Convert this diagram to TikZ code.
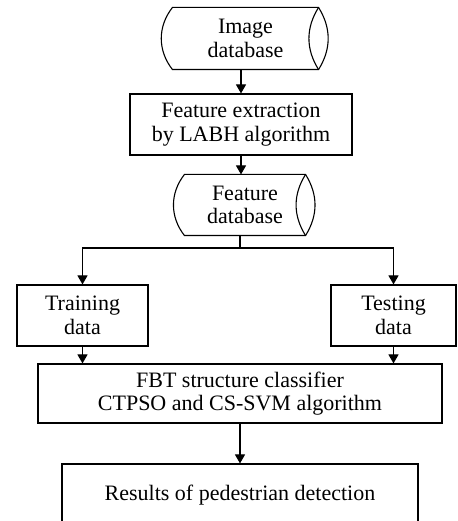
\documentclass[tikz,border=0pt]{standalone}
\usepackage{fontspec}
\setmainfont{Liberation Serif}
\usetikzlibrary{arrows.meta}

% outline of a stored-data node: curved left end, lens on the right
\newcommand\storeoutline[1]{
        \draw (#1.north west) to[out=-128,in=128] (#1.south west)
              -- (#1.south east) to[out=58,in=-58] (#1.north east)
              -- cycle;
        \draw (#1.north east) to[out=-122,in=122] (#1.south east);
}

\begin{document}
\begin{tikzpicture}[x=0.5pt, y=0.5pt, line width=0.55pt,
        procbox/.style={draw, rectangle, align=center, inner sep=0pt},
        storebox/.style={rectangle, align=center, inner sep=0pt},
        dataflow/.style={-{Triangle[length=4.5pt,width=5pt]}},
        every node/.style={font=\fontsize{11}{11.7}\selectfont}
        ]
        \useasboundingbox (0,0) rectangle (457,521);
        \clip (0,0) rectangle (457,521);
        \node [storebox, minimum width=72.5pt, minimum height=30.5pt, name=imgdb] at (245.5,482.5) {Image\\database};
        \node [procbox, minimum width=111pt, minimum height=30.5pt, name=featx] at (241,396.5) {Feature extraction\\by LABH algorithm};
        \node [storebox, minimum width=60pt, minimum height=30pt, name=featdb] at (245,316) {Feature\\database};
        \coordinate (split) at (240,273);
        \node [procbox, minimum width=65.5pt, minimum height=30.5pt, name=train] at (82.5,205.5) {Training\\data};
        \node [procbox, minimum width=62.5pt, minimum height=30.5pt, name=test] at (393.5,205.5) {Testing\\data};
        \node [procbox, minimum width=202pt, minimum height=29.5pt, name=fbt] at (240,127.5) {FBT structure classifier\\CTPSO and CS-SVM algorithm};
        \node [procbox, minimum width=178pt, minimum height=31pt, name=results] at (240,26) {Results of pedestrian detection};
        \storeoutline{imgdb}
        \storeoutline{featdb}
        \draw [dataflow] (imgdb.south -| featx.north) -- (featx.north);
        \draw [dataflow] (featx.south) -- (featx.south |- featdb.north);
        \draw (featdb.south -| split) -- (split);
        \draw [dataflow] (split) -| (train.north);
        \draw [dataflow] (split) -| (test.north);
        \draw [dataflow] (train.south) -- (train.south |- fbt.north);
        \draw [dataflow] (test.south) -- (test.south |- fbt.north);
        \draw [dataflow] (fbt.south) -- (results.north);
\end{tikzpicture}
\end{document}
